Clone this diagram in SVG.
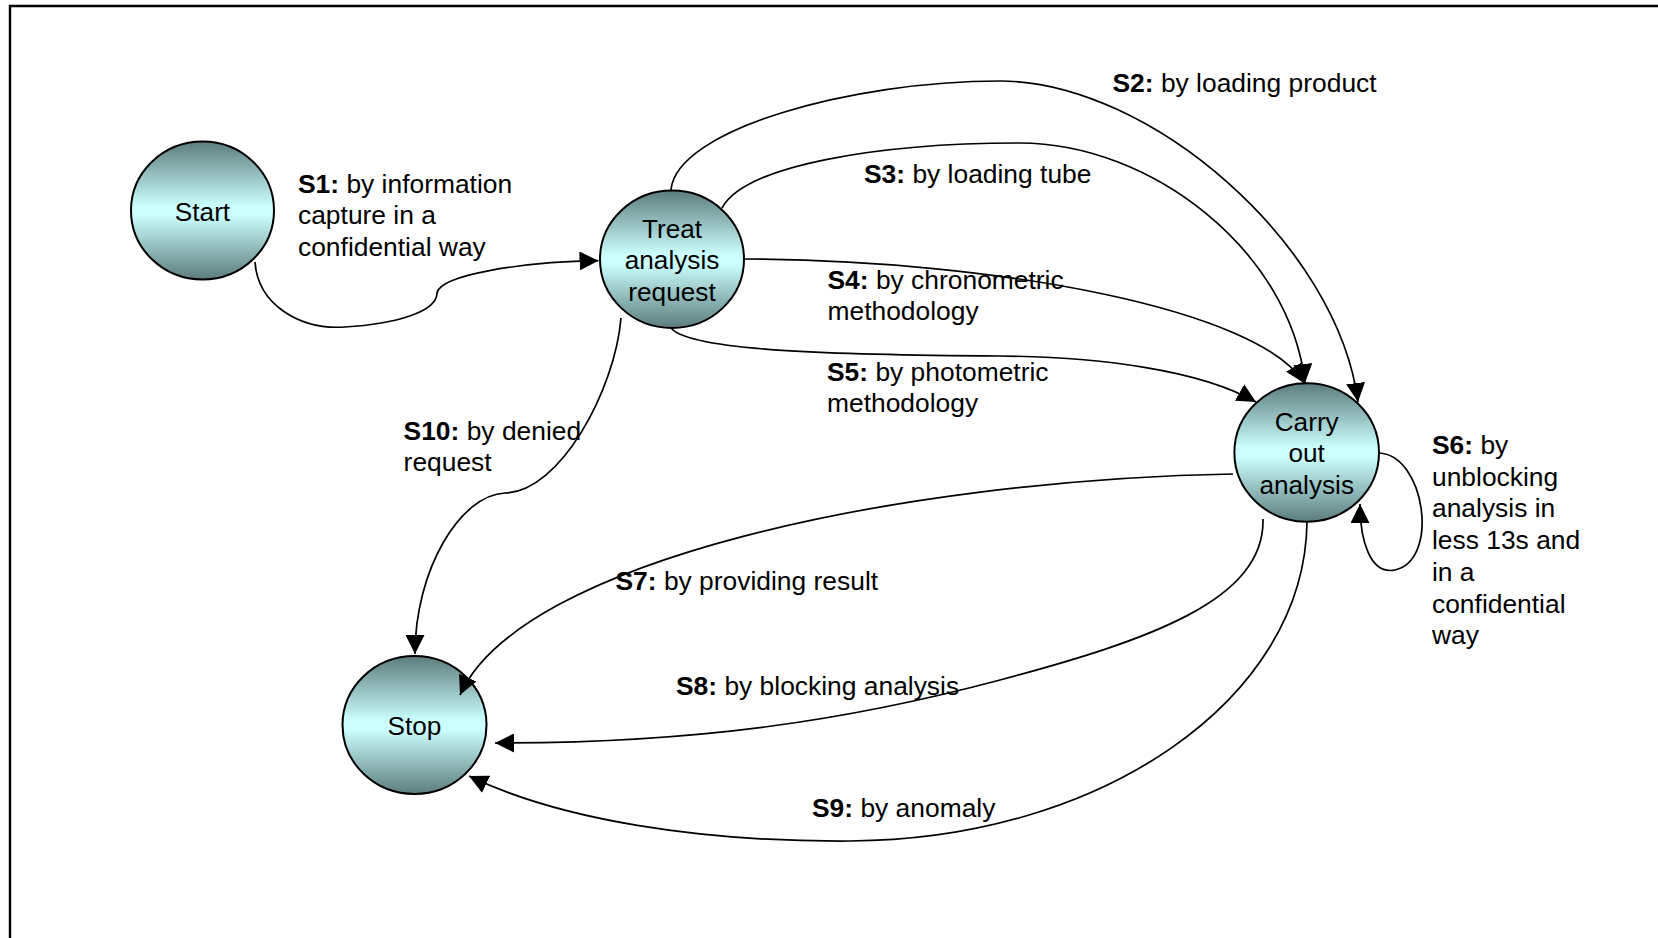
<svg xmlns="http://www.w3.org/2000/svg" width="1658" height="938" viewBox="0 0 1658 938">
  <defs>
    <linearGradient id="stateFill" x1="0" y1="0" x2="0" y2="1">
      <stop offset="0" stop-color="#5c7c7c"/>
      <stop offset="0.47" stop-color="#ccffff"/>
      <stop offset="0.53" stop-color="#ccffff"/>
      <stop offset="1" stop-color="#5c7c7c"/>
    </linearGradient>
    <marker id="arrow" markerUnits="userSpaceOnUse" viewBox="0 0 19 19" markerWidth="19" markerHeight="19" refX="19" refY="9.5" orient="auto">
      <path d="M0,0 L19,9.5 L0,19 Z" fill="#000"/>
    </marker>
  </defs>
  <style>
    .state { fill: url(#stateFill); stroke: #000; stroke-width: 2; }
    .name { font-family: "Liberation Sans", Arial, sans-serif; font-size: 26.2px; fill: #000; text-anchor: middle; }
    .edge { fill: none; stroke: #000; stroke-width: 1.7; marker-end: url(#arrow); }
    .label { font-family: "Liberation Sans", Arial, sans-serif; font-size: 26.4px; fill: #000; }
    .label tspan.key { font-weight: bold; }
  </style>

  <rect width="1658" height="938" fill="#fff"/>
  <!-- page frame -->
  <path d="M10,938 V6 H1658" fill="none" stroke="#000" stroke-width="2.4"/>

  <g id="node-start">
    <ellipse class="state" cx="202.5" cy="210.5" rx="71.5" ry="69"/>
    <text class="name" x="202.5" y="220.5">Start</text>
  </g>
  <g id="node-treat">
    <ellipse class="state" cx="672" cy="259.3" rx="72" ry="68.7"/>
    <text class="name" x="672" y="237.5">Treat</text>
    <text class="name" x="672" y="269.2">analysis</text>
    <text class="name" x="672" y="300.9">request</text>
  </g>
  <g id="node-carry">
    <ellipse class="state" cx="1306.7" cy="452.5" rx="72.3" ry="69.2"/>
    <text class="name" x="1306.7" y="430.7">Carry</text>
    <text class="name" x="1306.7" y="462.3">out</text>
    <text class="name" x="1306.7" y="494">analysis</text>
  </g>
  <g id="node-stop">
    <ellipse class="state" cx="414.5" cy="725" rx="72" ry="69"/>
    <text class="name" x="414.5" y="735">Stop</text>
  </g>

  <g id="connectors">
    <!-- S1 Start -> Treat -->
    <path class="edge" d="M255,262 C258,305 300,330 345,327 C395,324 437,312 437,293 C440,275 520,262 598.5,260.7"/>
    <!-- S2 Treat -> Carry (outer arc) -->
    <path class="edge" d="M671,190 C676,130 850,81 1000,81 C1150,81 1338,245 1358,402"/>
    <!-- S3 Treat -> Carry (inner arc) -->
    <path class="edge" d="M722,208 C745,165 880,143 1020,143 C1150,143 1290,250 1305,383"/>
    <!-- S4 Treat -> Carry -->
    <path class="edge" d="M744,259 C1000,260 1260,310 1304,383"/>
    <!-- S5 Treat -> Carry -->
    <path class="edge" d="M671,328 C690,352 850,355 1000,356 C1100,357 1200,370 1256,402"/>
    <!-- S6 Carry self-loop -->
    <path class="edge" d="M1379,453 C1425,455 1440,560 1395,570 C1370,575 1360,540 1360,504"/>
    <!-- S7 Carry -> Stop -->
    <path class="edge" d="M1233,474 C900,480 520,560 460,695"/>
    <!-- S8 Carry -> Stop -->
    <path class="edge" d="M1263,519 C1265,600 1150,640 1000,680 C850,720 700,743 495,743"/>
    <!-- S9 Carry -> Stop -->
    <path class="edge" d="M1307,522 C1305,700 1100,840 850,841 C700,842 560,820 469,776"/>
    <!-- S10 Treat -> Stop -->
    <path class="edge" d="M621,318 C615,390 560,492 505,493 C460,495 415,570 415,654"/>

    <text class="label" x="298" y="192.7"><tspan class="key">S1:</tspan> by information</text>
    <text class="label" x="298" y="224.4">capture in a</text>
    <text class="label" x="298" y="256.1">confidential way</text>

    <text class="label" x="1112.5" y="91.7"><tspan class="key">S2:</tspan> by loading product</text>

    <text class="label" x="864" y="182.7"><tspan class="key">S3:</tspan> by loading tube</text>

    <text class="label" x="827.5" y="288.5"><tspan class="key">S4:</tspan> by chronometric</text>
    <text class="label" x="827.5" y="320.2">methodology</text>

    <text class="label" x="827" y="380.5"><tspan class="key">S5:</tspan> by photometric</text>
    <text class="label" x="827" y="412.2">methodology</text>

    <text class="label" x="1432" y="454"><tspan class="key">S6:</tspan> by</text>
    <text class="label" x="1432" y="485.7">unblocking</text>
    <text class="label" x="1432" y="517.4">analysis in</text>
    <text class="label" x="1432" y="549.1">less 13s and</text>
    <text class="label" x="1432" y="580.8">in a</text>
    <text class="label" x="1432" y="612.5">confidential</text>
    <text class="label" x="1432" y="644.2">way</text>

    <text class="label" x="615.5" y="589.5"><tspan class="key">S7:</tspan> by providing result</text>

    <text class="label" x="676" y="694.5"><tspan class="key">S8:</tspan> by blocking analysis</text>

    <text class="label" x="812" y="816.8"><tspan class="key">S9:</tspan> by anomaly</text>

    <text class="label" x="403.6" y="439.5"><tspan class="key">S10:</tspan> by denied</text>
    <text class="label" x="403.6" y="471.2">request</text>
  </g>
</svg>
